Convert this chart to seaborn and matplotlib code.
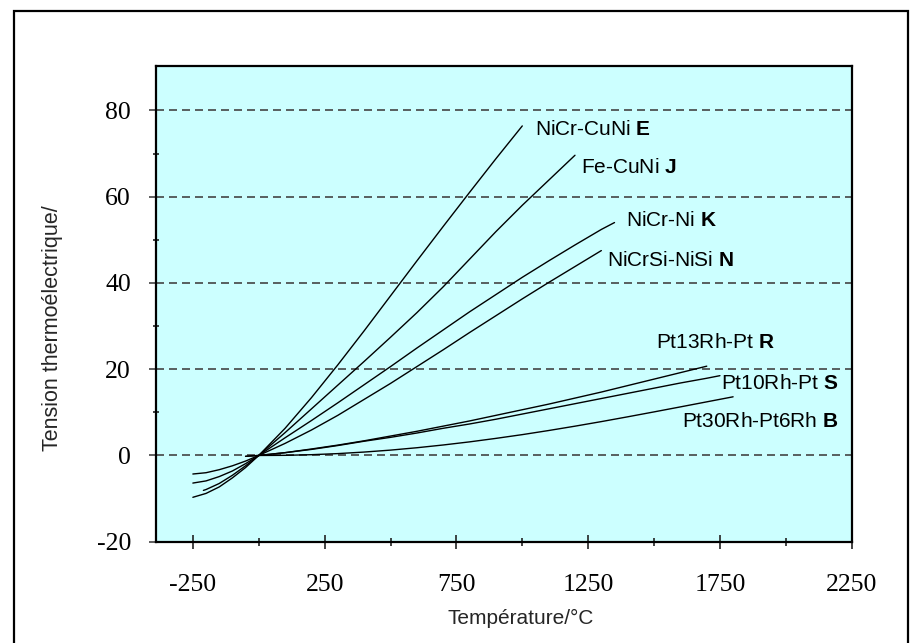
import pandas as pd
import numpy as np
import matplotlib
matplotlib.use("Agg")
import matplotlib.pyplot as plt
import matplotlib.patches as patches
from matplotlib.ticker import MultipleLocator, FixedLocator
import seaborn as sns

# thermocouple curves (temperature in °C, voltage in mV)
t_E = [-250, -200, -150, -100, -50, 0, 100, 200, 300, 400, 500, 600, 700, 800, 900, 1000]
v_E = [-9.7, -8.8, -7.3, -5.2, -2.8, 0, 6.3, 13.4, 21.0, 28.9, 37.0, 45.1, 53.1, 61.0, 68.8, 76.4]

t_J = [-210, -200, -150, -100, -50, 0, 100, 200, 300, 400, 500, 600, 700, 800, 900, 1000, 1100, 1200]
v_J = [-8.1, -7.9, -6.5, -4.6, -2.4, 0, 5.3, 10.8, 16.3, 21.8, 27.4, 33.1, 39.1, 45.5, 51.9, 58.0, 63.8, 69.6]

t_K = [-250, -200, -150, -100, -50, 0, 100, 200, 300, 400, 500, 600, 700, 800, 900, 1000, 1100, 1200, 1300, 1350]
v_K = [-6.4, -5.9, -4.9, -3.6, -1.9, 0, 4.1, 8.1, 12.2, 16.4, 20.6, 24.9, 29.1, 33.3, 37.3, 41.3, 45.1, 48.8, 52.4, 54.0]

t_N = [-250, -200, -150, -100, -50, 0, 100, 200, 300, 400, 500, 600, 700, 800, 900, 1000, 1100, 1200, 1300]
v_N = [-4.3, -4.0, -3.3, -2.4, -1.3, 0, 2.8, 5.9, 9.3, 13.0, 16.7, 20.6, 24.5, 28.5, 32.4, 36.3, 40.1, 43.8, 47.5]

t_R = [-50, 0, 100, 200, 300, 400, 500, 600, 700, 800, 900, 1000, 1100, 1200, 1300, 1400, 1500, 1600, 1700]
v_R = [-0.2, 0, 0.65, 1.5, 2.4, 3.4, 4.5, 5.6, 6.8, 8.0, 9.3, 10.6, 11.9, 13.3, 14.7, 16.2, 17.7, 19.2, 20.7]

t_S = [-50, 0, 100, 200, 300, 400, 500, 600, 700, 800, 900, 1000, 1100, 1200, 1300, 1400, 1500, 1600, 1700, 1750]
v_S = [-0.2, 0, 0.65, 1.4, 2.3, 3.3, 4.2, 5.2, 6.3, 7.3, 8.4, 9.6, 10.8, 12.0, 13.2, 14.4, 15.6, 16.8, 17.9, 18.5]

t_B = [0, 100, 200, 300, 400, 500, 600, 700, 800, 900, 1000, 1100, 1200, 1300, 1400, 1500, 1600, 1700, 1800]
v_B = [0, 0.03, 0.18, 0.43, 0.79, 1.24, 1.79, 2.43, 3.15, 3.96, 4.83, 5.78, 6.79, 7.85, 8.96, 10.1, 11.26, 12.43, 13.6]

names = ["NiCr-CuNi", "Fe-CuNi", "NiCr-Ni", "NiCrSi-NiSi", "Pt13Rh-Pt", "Pt10Rh-Pt", "Pt30Rh-Pt6Rh"]
letters = ["E", "J", "K", "N", "R", "S", "B"]
label_x = [1049, 1222, 1394, 1321, 1508, 1753, 1605]
label_y = [74.3, 65.4, 53.3, 43.9, 24.8, 15.4, 6.7]

curves = [(t_E, v_E), (t_J, v_J), (t_K, v_K), (t_N, v_N), (t_R, v_R), (t_S, v_S), (t_B, v_B)]
frames = []
for letter, (t, v) in zip(letters, curves):
    frames.append(pd.DataFrame({"T": t, "mV": v, "type": letter}))
df = pd.concat(frames, ignore_index=True)

sns.set_theme(style="ticks")
plt.rcParams["font.family"] = ["Liberation Sans", "DejaVu Sans"]
plt.rcParams["mathtext.fontset"] = "custom"
plt.rcParams["mathtext.rm"] = "Liberation Sans"
plt.rcParams["mathtext.bf"] = "Liberation Sans:bold"
plt.rcParams["axes.unicode_minus"] = False

fig = plt.figure(figsize=(9.11, 6.43), dpi=100)
ax = fig.add_axes([0.1712, 0.1575, 0.7637, 0.7399])
ax.set_facecolor("#CCFFFF")

# dashed horizontal grid
for yv in [0, 20, 40, 60, 80]:
    ax.axhline(yv, color="#444444", lw=1.2, ls=(0, (4.8, 3)), zorder=1)

sns.lineplot(data=df, x="T", y="mV", units="type", estimator=None, sort=False,
             color="black", lw=1.0, ax=ax, zorder=3)

for name, letter, lx, ly in zip(names, letters, label_x, label_y):
    ax.text(lx, ly, name + r" $\mathbf{" + letter + "}$", fontsize=15,
            ha="left", va="baseline", color="black", zorder=4)

ax.set_xlim(-390, 2250)
ax.set_ylim(-20, 90.3)
ax.xaxis.set_major_locator(FixedLocator([-250, 250, 750, 1250, 1750, 2250]))
ax.xaxis.set_minor_locator(FixedLocator([0, 500, 1000, 1500, 2000]))
ax.yaxis.set_major_locator(MultipleLocator(20))
ax.yaxis.set_minor_locator(FixedLocator([10, 30, 50, 70]))

ax.tick_params(axis="x", which="major", direction="inout", length=10, width=1.2,
               color="#222222", pad=18)
ax.tick_params(axis="x", which="minor", direction="inout", length=6, width=1.2,
               color="#222222")
ax.tick_params(axis="y", which="major", direction="out", length=5, width=1.2,
               color="#444444", pad=13)
ax.tick_params(axis="y", which="minor", direction="inout", length=4, width=1.2,
               color="#222222")
for lab in ax.get_xticklabels() + ax.get_yticklabels():
    lab.set_fontfamily("Liberation Serif")
    lab.set_fontsize(18.5)
    lab.set_color("black")

for s in ax.spines.values():
    s.set_color("black")
    s.set_linewidth(1.6)

ax.set_xlabel("Température/°C", fontsize=15, va="center", ha="center")
ax.xaxis.set_label_coords(0.5247, -0.1604)
ax.set_ylabel("Tension thermoélectrique/", fontsize=15.5, va="center", ha="center")
ax.yaxis.set_label_coords(-0.148, 0.45)

# outer frame, open at the bottom edge of the picture
frame = patches.Rectangle((14 / 911, -0.02), (907.7 - 14) / 911, 1 - 11 / 643 + 0.02,
                          transform=fig.transFigure, fill=False, edgecolor="black",
                          lw=1.6, zorder=10)
fig.patches.append(frame)

fig.savefig("out.png", dpi=100, facecolor="white")
